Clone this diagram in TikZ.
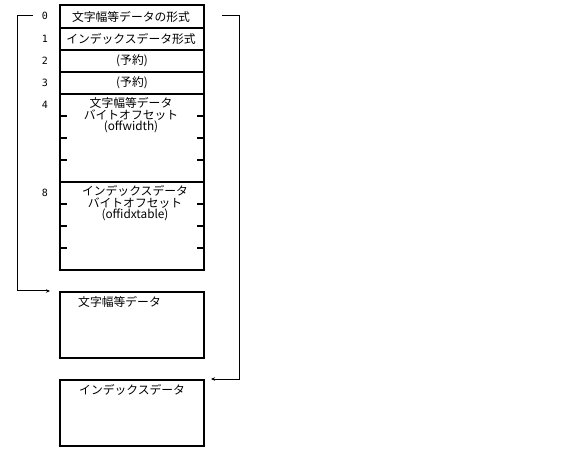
\documentclass[tikz,border=0pt]{standalone}
\usepackage{fontspec}
\newfontfamily\jp{Noto Sans CJK JP}
\newfontfamily\mono{DejaVu Sans Mono}
\usetikzlibrary{arrows.meta}
\begin{document}
\begin{tikzpicture}[x=1pt,y=-1pt,
  box/.style={draw,line width=2pt},
  tick/.style={line width=1.5pt},
  lbl/.style={font=\jp\fontsize{11.8}{13}\selectfont,inner sep=0pt},
  num/.style={font=\mono\fontsize{10}{12}\selectfont,inner sep=0pt},
  conn/.style={line width=1pt,-{Stealth[length=4pt,width=3.5pt]}}]
\useasboundingbox (0,0) rectangle (576,473);
% main table
\draw[box] (60,5) rectangle (204,270);
\foreach \y in {28,50,72,94,182} \draw[box] (60,\y) -- (204,\y);
\foreach \y in {116,138,160,204,226,248} {
  \draw[tick] (60,\y) -- (67,\y);
  \draw[tick] (197,\y) -- (204,\y);
}
\node[lbl] (r0) at (131,16.5) {文字幅等データの形式};
\node[lbl] (r1) at (131,39) {インデックスデータ形式};
\node[lbl] (r2) at (132,61) {(予約)};
\node[lbl] (r3) at (132,83) {(予約)};
\node[lbl,align=center,font=\jp\fontsize{11.8}{11.8}\selectfont,anchor=north] (r4) at (131,97) {文字幅等データ\\バイトオフセット\\(offwidth)};
\node[lbl,align=center,font=\jp\fontsize{11.8}{11.8}\selectfont,anchor=north] (r8) at (135,185) {インデックスデータ\\バイトオフセット\\(offidxtable)};
\node[num] (n0) at (45,16) {0};
\node[num] (n1) at (45,39) {1};
\node[num] (n2) at (45,61) {2};
\node[num] (n3) at (45,83) {3};
\node[num] (n4) at (45,105) {4};
\node[num] (n8) at (45,193) {8};
% data boxes
\draw[box] (60,292) rectangle (204,358);
\coordinate (wd) at (60,292);
\node[lbl,anchor=west] (wdl) at (78,302) {文字幅等データ};
\draw[box] (60,379.5) rectangle (204,445.5);
\coordinate (ix) at (60,379.5);
\node[lbl,anchor=west] (ixl) at (79,390) {インデックスデータ};
% brackets
\coordinate (ls) at (33,16);
\coordinate (le) at (50,291);
\coordinate (rs) at (222,16);
\coordinate (re) at (211,379);
\draw[conn] (ls) -- (17,16) -- (17,291) -- (le);
\draw[conn] (rs) -- (239.5,16) -- (239.5,379) -- (re);
\end{tikzpicture}
\end{document}
